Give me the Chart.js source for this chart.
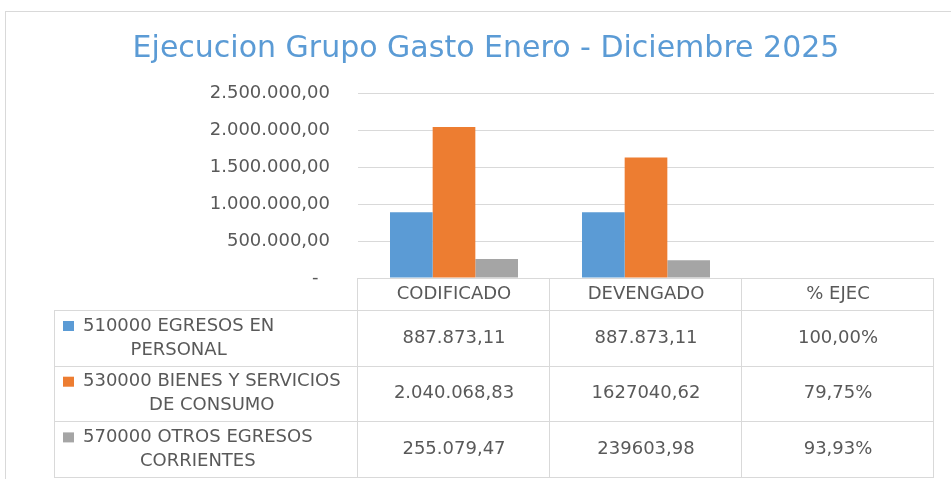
<!DOCTYPE html>
<html>
<head>
<meta charset="utf-8">
<title>Ejecucion Grupo Gasto</title>
<script src="https://cdn.jsdelivr.net/npm/chart.js@4.4.1/dist/chart.umd.min.js"></script>
<style>
  html, body { margin: 0; padding: 0; background: #ffffff; }
  #wrap { width: 951px; height: 479px; }
</style>
</head>
<body>
<div id="wrap"><canvas id="myChart" width="951" height="479"></canvas></div>
<script>
'use strict'

//data
const categories = ['CODIFICADO', 'DEVENGADO', '% EJEC'];
const seriesNames = ['510000 EGRESOS EN PERSONAL', '530000 BIENES Y SERVICIOS DE CONSUMO', '570000 OTROS EGRESOS CORRIENTES'];
const codificado = [887873.11, 2040068.83, 255079.47];
const devengado = [887873.11, 1627040.62, 239603.98];
const pctEjec = [100.00, 79.75, 93.93];
// table text as printed in the sheet
const codificadoText = ['887.873,11', '2.040.068,83', '255.079,47'];
const devengadoText = ['887.873,11', '1627040,62', '239603,98'];
const pctText = ['100,00%', '79,75%', '93,93%'];
const yTicks = [0, 500000, 1000000, 1500000, 2000000, 2500000];

const seriesColors = ['#5b9bd5', '#ed7d31', '#a5a5a5'];
const textColor = '#595959';
const lineColor = '#d9d9d9';
const font = 'DejaVu Sans';
const padLeft = 38;

//functions
function formatNumber(v) {
  let parts = v.toFixed(2).split('.');
  let whole = parts[0].replace(/\B(?=(\d{3})+(?!\d))/g, '.');
  return whole + ',' + parts[1];
}

function wrapText(ctx, text, maxWidth) {
  let words = text.split(' ');
  let lines = [];
  let line = '';
  for (let i = 0; i < words.length; i++) {
    let test = line ? line + ' ' + words[i] : words[i];
    if (ctx.measureText(test).width > maxWidth && line) {
      lines.push(line);
      line = words[i];
    } else {
      line = test;
    }
  }
  lines.push(line);
  return lines;
}

// outer frame of the excel chart object
const framePlugin = {
  id: 'frame',
  beforeDraw(chart) {
    let ctx = chart.ctx;
    ctx.save();
    ctx.fillStyle = '#ffffff';
    ctx.fillRect(0, 0, chart.width, chart.height);
    ctx.strokeStyle = lineColor;
    ctx.lineWidth = 1;
    ctx.strokeRect(5.5, 11.5, chart.width + 20, chart.height + 20);
    ctx.restore();
  }
};

// data table under the plot, built on the x scale
const tablePlugin = {
  id: 'dataTable',
  afterDraw(chart) {
    let ctx = chart.ctx;
    let xs = chart.scales.x;
    let area = chart.chartArea;
    let colW = xs.width / categories.length;
    let top = area.bottom;
    let headerH = 32;
    let rowH = 55.7;
    let tableLeft = 54;
    let bottom = top + headerH + rowH * seriesNames.length;

    ctx.save();
    ctx.strokeStyle = lineColor;
    ctx.lineWidth = 1;
    ctx.beginPath();
    // header top
    ctx.moveTo(area.left, Math.round(top) + 0.5);
    ctx.lineTo(area.right, Math.round(top) + 0.5);
    // row lines
    for (let r = 0; r <= seriesNames.length; r++) {
      let y = Math.round(top + headerH + r * rowH) + 0.5;
      ctx.moveTo(tableLeft, y);
      ctx.lineTo(area.right, y);
    }
    // column lines
    for (let c = 0; c <= categories.length; c++) {
      let x = Math.round(area.left + c * colW) - 0.5;
      ctx.moveTo(x, top);
      ctx.lineTo(x, bottom);
    }
    ctx.moveTo(tableLeft + 0.5, top + headerH);
    ctx.lineTo(tableLeft + 0.5, bottom);
    ctx.stroke();

    ctx.fillStyle = textColor;
    ctx.font = '18px "' + font + '"';
    ctx.textBaseline = 'middle';
    ctx.textAlign = 'center';

    // header
    for (let c = 0; c < categories.length; c++) {
      ctx.fillText(categories[c], xs.getPixelForValue(c), top + headerH / 2);
    }

    let cols = [codificadoText, devengadoText, pctText];
    for (let r = 0; r < seriesNames.length; r++) {
      let rowTop = top + headerH + r * rowH;
      // legend key
      ctx.fillStyle = seriesColors[r];
      ctx.fillRect(63, rowTop + 11, 11, 10);
      // label
      ctx.fillStyle = textColor;
      let lines = wrapText(ctx, seriesNames[r], area.left - 83 - 8);
      let blockW = 0;
      for (let l = 0; l < lines.length; l++) {
        blockW = Math.max(blockW, ctx.measureText(lines[l]).width);
      }
      for (let l = 0; l < lines.length; l++) {
        ctx.fillText(lines[l], 83 + blockW / 2, rowTop + 16 + l * 24);
      }
      // values
      for (let c = 0; c < categories.length; c++) {
        ctx.fillText(cols[c][r], xs.getPixelForValue(c), rowTop + rowH / 2);
      }
    }
    ctx.restore();
  }
};

//chart
const data = {
  labels: categories,
  datasets: [{
    label: seriesNames[0],
    data: [codificado[0], devengado[0], null],
    backgroundColor: seriesColors[0]
  },
  {
    label: seriesNames[1],
    data: [codificado[1], devengado[1], null],
    backgroundColor: seriesColors[1]
  },
  {
    label: seriesNames[2],
    data: [codificado[2], devengado[2], null],
    backgroundColor: seriesColors[2]
  }]
};

const config = {
  type: 'bar',
  data: data,
  options: {
    responsive: false,
    animation: false,
    devicePixelRatio: 1,
    categoryPercentage: 3 / 4.5,
    barPercentage: 1,
    layout: {
      padding: { left: padLeft, right: 17, top: 0, bottom: 201 }
    },
    plugins: {
      legend: { display: false },
      tooltip: { enabled: false },
      title: {
        display: true,
        text: 'Ejecucion Grupo Gasto Enero - Diciembre 2025',
        color: '#5b9bd5',
        font: { family: font, size: 30, weight: 'normal' },
        padding: { top: 31, bottom: 26 }
      }
    },
    scales: {
      x: {
        display: false
      },
      y: {
        min: 0,
        max: 2500000,
        afterFit(scale) {
          scale.width = 358 - padLeft;
        },
        afterBuildTicks(scale) {
          scale.ticks = yTicks.map(v => ({ value: v }));
        },
        border: { display: false },
        grid: {
          color: lineColor,
          lineWidth: 1,
          drawTicks: false
        },
        ticks: {
          color: textColor,
          padding: 28,
          font: { family: font, size: 18 },
          callback: function(value) {
            return value === 0 ? '-  ' : formatNumber(value);
          }
        }
      }
    }
  },
  plugins: [framePlugin, tablePlugin]
};

let canvasChart = document.getElementById('myChart');
const myChart = new Chart(canvasChart, config);
</script>
</body>
</html>
